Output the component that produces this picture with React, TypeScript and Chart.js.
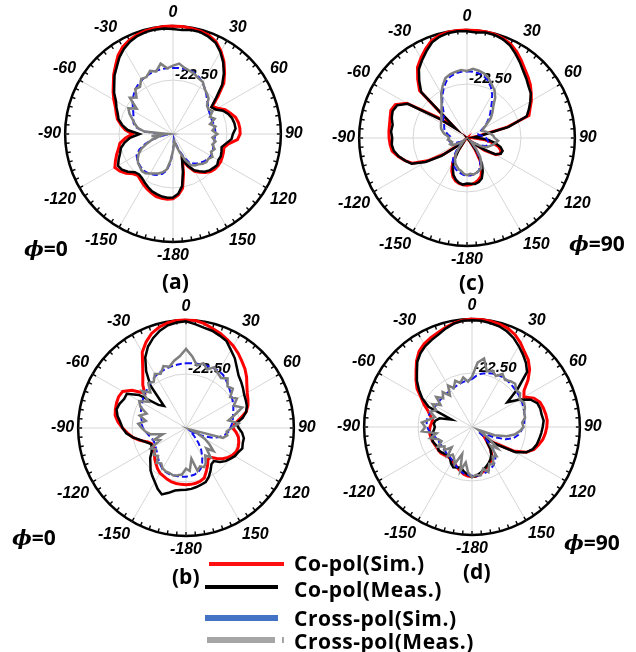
import React, { useEffect, useRef } from 'react';
import { Chart, registerables } from 'chart.js';

Chart.register(...registerables);

// Each pattern cut is sampled every 5 degrees, clockwise from 0 (top),
// index 0..36 -> 0..180 deg, index 37..71 -> -175..-5 deg.
const STEP_DEG = 5;
const ANGLES = Array.from({ length: 360 / STEP_DEG }, (_, i) => (i * STEP_DEG > 180 ? i * STEP_DEG - 360 : i * STEP_DEG));
const ANGLE_TICKS = ['0', '30', '60', '90', '120', '150', '-180', '-150', '-120', '-90', '-60', '-30'];
const R_MIN = -45;
const R_MAX = 0;
const R_STEP = 22.5;
const RING_LABEL = '-22.50';

// (a) phi = 0
const A_CO_SIM = [
  0, 0, -0.3, -0.6, -1.2, -2.5, -5, -8, -11.5, -15, -20.5, -25,
  -23.5, -21, -19.5, -18, -17.3, -17, -17, -18, -21.5, -23, -22.6, -22.3,
  -22, -22, -22.2, -22.8, -24, -25.5, -27, -30, -33.5, -28, -22, -19.5,
  -18, -17.7, -17.8, -18, -18.8, -19.6, -20.5, -21.5, -22.3, -21.5, -19.5, -18,
  -17, -18.5, -20, -21.5, -22.5, -25, -28, -25, -23, -21, -19.8, -18.5,
  -16.5, -14.5, -12.5, -10, -7.7, -5, -3, -1.8, -1, -0.5, -0.2, 0,
];
const A_CO_MEAS = [
  -1.2, -1.5, -1, -1, -1.8, -3, -5.5, -8.5, -12, -16, -21.5, -25.5,
  -24.5, -22, -20.5, -19.5, -19, -18.8, -20, -20.5, -22.5, -24, -23.5, -23,
  -23.2, -22.5, -23, -23.5, -24.5, -26, -27.5, -30.5, -34, -29, -23, -20,
  -18.5, -18.3, -18.5, -19, -19.5, -20.5, -21.5, -22.5, -23, -22.5, -20.5, -19,
  -18.5, -20, -21.5, -22.5, -24.5, -27, -31, -26, -23.5, -21.5, -20.5, -19,
  -17.5, -15, -13, -10.5, -8.5, -6, -4, -2.5, -1.5, -1, -0.8, -0.8,
];
const A_X_SIM = [
  -17.5, -17.4, -17.4, -17.5, -18, -19, -20.3, -21.8, -23.4, -24.9, -26, -27,
  -27.4, -27.7, -27.8, -27.6, -27.4, -27.3, -27.4, -27.5, -27.7, -27.6, -27.2, -26.8,
  -26.8, -27, -27.6, -28.3, -29, -30, -31, -34.5, -38, -41, -43, -42,
  -38, -33, -29.5, -27.8, -26.8, -26.2, -25.8, -25.5, -25.5, -25.8, -26.2, -26.7,
  -27.5, -29.5, -32.5, -36, -40, -43, -40, -33, -29.5, -28, -27.4, -26.8,
  -25.8, -24.5, -23, -21.8, -20.6, -19.7, -19, -18.4, -18, -17.7, -17.5, -17.5,
];
const A_X_MEAS = [
  -16.5, -15.5, -17, -17.8, -18.5, -19.5, -20, -22, -23, -24, -26.5, -27,
  -26, -28, -26.5, -29, -27, -28.5, -26.5, -28.5, -27, -28, -26.5, -27.5,
  -26, -27, -26.8, -27.5, -28.5, -29, -30, -33, -37, -40, -42, -41,
  -38, -34, -30, -28.5, -27.5, -26.8, -26, -25, -24.8, -25.5, -26, -27,
  -28.5, -30.5, -33.5, -36, -39, -36, -43, -33, -30, -28.5, -27, -25,
  -23.5, -26.5, -21.5, -23.5, -20.5, -21, -18.5, -18.8, -17, -18, -15.2, -17.5,
];

// (b) phi = 0
const B_CO_SIM = [
  0, 0, -0.8, -2, -3, -4.3, -5.5, -7, -8.7, -10.2, -12, -14,
  -15.5, -16.5, -17.5, -19, -22, -24.5, -25.5, -24, -22.8, -22.2, -21.8, -21.8,
  -22.5, -23.6, -25, -27, -29, -29, -27, -25, -22.8, -22, -21.6, -21.4,
  -21.3, -21.4, -21.5, -21.7, -22.2, -22.8, -23.3, -24.3, -25.5, -26.6, -27.8, -28.8,
  -29.3, -29.3, -28, -25, -22.5, -20.5, -18.5, -16.5, -15, -14.5, -14.2, -14,
  -14.5, -17.5, -22.5, -19.5, -17, -13.5, -8.5, -5.5, -3, -1.5, -0.5, 0,
];
const B_CO_MEAS = [
  -0.5, -1.5, -2.5, -3, -4, -5, -7.5, -9.5, -12, -14, -15, -16,
  -17, -17.5, -18, -19, -21, -24, -23, -21.5, -20.5, -20.5, -20, -21,
  -21.5, -22.5, -23.5, -25, -27, -26.5, -24.5, -22.5, -21, -20.5, -20, -19.5,
  -19.2, -19, -18.5, -17, -15.5, -17, -19, -20.5, -22, -24, -25.5, -27.5,
  -28.5, -29, -27.5, -25.5, -22.5, -20, -18.5, -17.5, -16, -15, -15.5, -16.5,
  -16.5, -21, -30, -32, -22, -16, -11, -7.5, -5, -3, -1.5, -0.8,
];
const B_X_SIM = [
  -18, -17.9, -17.8, -17.7, -17.6, -17.5, -17.5, -18, -19, -20, -21, -21.8,
  -22.5, -23.2, -24, -24.7, -25.2, -25.8, -26.5, -27.2, -28.5, -30.5, -33, -37,
  -41, -43, -42, -40, -37, -34, -31.5, -29, -27, -25.8, -25.2, -24.9,
  -24.7, -24.6, -24.6, -24.6, -24.6, -24.8, -25.3, -26.3, -27.3, -28.3, -29.2, -29.8,
  -30.2, -30.5, -30.4, -29.8, -29, -28, -27, -26.5, -26.2, -25.6, -25, -24.4,
  -23.9, -23.2, -22.6, -22.1, -21.3, -20.5, -19.8, -19.4, -19, -18.7, -18.4, -18.2,
];
const B_X_MEAS = [
  -12, -15, -18.5, -17, -19, -17, -18.5, -19.5, -18, -20.5, -19.5, -22.5,
  -20.5, -23, -20, -24, -27, -23, -26, -28, -27.5, -29, -43, -40,
  -36, -33, -30, -33, -29, -31, -28.5, -27, -28, -26.5, -32, -27,
  -28, -25.5, -25, -24.5, -25, -25, -25.5, -27, -26, -28.5, -27.5, -29.5,
  -28, -33, -31, -35, -30, -28, -26.5, -25, -28, -25, -27.5, -24,
  -22.5, -26, -21, -24, -20.5, -21.5, -19, -20, -17.5, -18.5, -16.5, -15,
];

// (c) phi = 90
const C_CO_SIM = [
  0, 0, 0, -0.2, -0.8, -1.8, -3.5, -5.5, -7.5, -9, -10.5, -12.3,
  -14, -16, -17.5, -28, -40, -43, -42, -38, -34.5, -31.5, -30, -29.6,
  -31, -36, -42, -44, -43, -39, -34, -30.5, -28, -26.8, -26, -25.5,
  -25.3, -25.4, -25.8, -26.5, -27.8, -30, -33, -38, -43, -44, -41, -33,
  -26, -20, -17.5, -15.3, -13.3, -12.8, -12.5, -12.3, -12.2, -11.8, -11.2, -12,
  -16, -30, -38, -17, -13, -9, -6.5, -4, -1.8, -0.7, -0.1, 0,
];
const C_CO_MEAS = [
  -0.5, -0.8, -0.3, -0.5, -1.2, -2.5, -4.5, -6.5, -8.5, -10, -11.5, -12.5,
  -14.5, -16.5, -18.5, -27, -39, -42, -40, -36, -33, -30.5, -29.2, -29.5,
  -31.5, -37, -42, -44, -42, -37, -32.5, -29.5, -27, -26, -25.5, -25.8,
  -26, -25.5, -26, -27, -28.5, -31, -34, -39, -43, -43.5, -40, -32,
  -25, -19.5, -17.5, -15.5, -14, -13.5, -13.8, -13.2, -13.5, -12.5, -12, -12.8,
  -16.5, -31, -39, -18, -14, -10, -7.5, -5, -2.5, -1.2, -0.5, -0.3,
];
const C_X_SIM = [
  -17.2, -17.3, -17.6, -18.2, -19.5, -21.5, -24, -27, -29.5, -31.5, -33.5, -35.5,
  -37.5, -39, -40, -40, -39, -38, -37, -36.5, -36, -35.8, -36, -37,
  -39, -41, -42.5, -42, -40, -37, -34, -32, -30.5, -29.8, -29.5, -29.3,
  -29.3, -29.5, -30, -30.5, -31.2, -32, -33, -35, -38, -41, -43, -43,
  -42, -40.5, -39, -38, -37.5, -37.5, -38, -38, -37, -36, -35, -34.5,
  -34, -33, -32, -31.5, -29.5, -27, -24.5, -22, -19.8, -18.4, -17.6, -17.3,
];
const C_X_MEAS = [
  -17, -16, -16.5, -17.2, -18.5, -20.5, -22, -24.5, -28, -30, -32, -35,
  -37, -38, -37, -36, -35, -34, -33.5, -32, -33, -34, -35, -36,
  -38, -41, -43, -42, -39, -35.5, -33, -31, -30.5, -30, -29.5, -30,
  -29.5, -30, -31, -31.5, -32.5, -33.5, -35, -37, -40, -42.5, -43.5, -42,
  -40, -38, -37.5, -38.5, -38, -37, -37.5, -37, -35.5, -34.5, -33.5, -33,
  -32.5, -32, -31, -30, -28.5, -26.5, -23.5, -21, -18.5, -17.5, -17, -16.5,
];

// (d) phi = 90
const D_CO_SIM = [
  0, 0, -0.2, -0.6, -1.2, -2.5, -4.5, -6.8, -8.5, -11, -14.5, -18.5,
  -20, -16.5, -14.8, -14.2, -13.8, -13.5, -13.8, -14.3, -15, -16.2, -17.5, -20,
  -25, -33, -38, -36, -33, -30.5, -29, -28, -27, -26, -25, -24.5,
  -24.3, -24.5, -25, -26, -27, -28, -28.5, -29, -29, -28.5, -28, -28,
  -28, -27.8, -27.5, -27.3, -27.2, -27.2, -27.5, -28, -28.3, -27, -25.5, -23,
  -20.5, -17, -14.5, -12, -9, -6.5, -5, -4, -3.2, -2, -1, -0.3,
];
const D_CO_MEAS = [
  -0.5, -0.5, -1, -1.5, -2.5, -4, -6, -8, -10, -12.5, -20, -27,
  -22, -18, -16, -15.5, -15.5, -15, -15.5, -16, -16.5, -17, -18, -20,
  -24, -32, -37, -36, -33, -31, -29.5, -28.5, -27.5, -26.5, -25.5, -24.5,
  -24.3, -25, -26, -27.5, -27, -26.5, -27.5, -29, -30, -29, -28.5, -28,
  -28.5, -28, -27.5, -28, -28, -29, -29.5, -29, -29.5, -31, -36, -25,
  -21, -18, -15, -12.5, -9.5, -7.5, -6, -5, -4, -2.5, -1.2, -0.5,
];
const D_X_SIM = [
  -25, -23.5, -22.4, -21.8, -21.2, -20.8, -20.6, -20.6, -20.8, -21, -21.2, -21.4,
  -21.6, -21.8, -22.1, -22.4, -22.8, -23.1, -23.6, -24.5, -25.5, -27, -30, -35,
  -40, -42, -38, -33, -30, -28, -26.8, -26, -25.4, -25, -24.7, -24.6,
  -24.7, -24.9, -25.3, -26, -27, -28, -28.8, -29.3, -29.6, -29.8, -30, -30,
  -30, -29.9, -29.6, -29, -28, -27, -26.3, -26, -26, -26.3, -26.7, -27.1,
  -27.4, -27.6, -27.6, -27.6, -27.5, -27.4, -27.3, -27, -26.6, -26.2, -25.8, -25.4,
];
const D_X_MEAS = [
  -24, -18, -16, -21, -20, -21.5, -19.5, -21, -20, -19.5, -21, -20.5,
  -22, -21, -21.5, -22.5, -22.5, -24, -23.5, -25, -27, -30, -35, -42,
  -40, -36, -31, -34, -29, -30, -27, -28, -25, -27, -24.5, -25,
  -24, -26, -30, -26, -33, -28, -30, -31, -29, -33, -30, -31,
  -28.5, -31, -30, -27, -30, -24, -25.5, -24, -27, -29, -26.5, -28.5,
  -26, -29, -25.5, -28, -26, -29, -25, -27, -24.5, -26, -24, -26,
];

const SERIES_NAMES = ['Co-pol(Sim.)', 'Co-pol(Meas.)', 'Cross-pol(Sim.)', 'Cross-pol(Meas.)'];

const CANVAS = 270;
const GRID_GRAY = '#d6d6d6';
const AXIS_FONT = '"Liberation Sans", Arial, sans-serif';

type Cut = { co: number[]; coMeas: number[]; x: number[]; xMeas: number[] };

// Outer-ring tick marks and the ring value label.
const ringDecor = {
  id: 'ringDecor',
  beforeDatasetsDraw(chart: any) {
    const s = chart.scales.r;
    const ctx = chart.ctx as CanvasRenderingContext2D;
    const n = chart.data.labels.length;
    ctx.save();
    ctx.strokeStyle = '#000';
    ctx.lineWidth = 1.4;
    for (let i = 0; i < n; i++) {
      const a = s.getPointPosition(i, s.drawingArea);
      const b = s.getPointPosition(i, s.drawingArea - 4);
      ctx.beginPath();
      ctx.moveTo(a.x, a.y);
      ctx.lineTo(b.x, b.y);
      ctx.stroke();
    }
    const d = s.getDistanceFromCenterForValue(R_MIN + R_STEP);
    ctx.font = `italic bold 15px ${AXIS_FONT}`;
    ctx.fillStyle = '#000';
    ctx.textAlign = 'left';
    ctx.textBaseline = 'alphabetic';
    ctx.fillText(RING_LABEL, s.xCenter + 2, s.yCenter - d - 1);
    ctx.restore();
  },
};

function PolarCut({ cut, cx, cy }: { cut: Cut; cx: number; cy: number }) {
  const ref = useRef<HTMLCanvasElement | null>(null);
  useEffect(() => {
    const canvas = ref.current;
    if (!canvas) return;
    const chart = new Chart(canvas, {
      type: 'radar',
      data: {
        labels: ANGLES.map(String),
        datasets: [
          { label: SERIES_NAMES[3], data: cut.xMeas, borderColor: '#7f7f7f', borderWidth: 2.5, order: 0 },
          { label: SERIES_NAMES[2], data: cut.x, borderColor: '#1010f0', borderWidth: 2, borderDash: [6, 3], order: 1 },
          { label: SERIES_NAMES[1], data: cut.coMeas, borderColor: '#000000', borderWidth: 2.5, order: 2 },
          { label: SERIES_NAMES[0], data: cut.co, borderColor: '#ff0000', borderWidth: 3, order: 3 },
        ].map((d) => ({ ...d, fill: false, pointRadius: 0, pointHoverRadius: 0, backgroundColor: 'transparent', tension: 0 })),
      },
      options: {
        responsive: false,
        animation: false,
        events: [],
        layout: { padding: 0 },
        plugins: { legend: { display: false }, tooltip: { enabled: false } },
        scales: {
          r: {
            min: R_MIN,
            max: R_MAX,
            startAngle: 0,
            ticks: { stepSize: R_STEP, display: false },
            grid: {
              circular: true,
              color: (c: any) => (c.index === 2 ? '#000' : c.index === 1 ? GRID_GRAY : 'rgba(0,0,0,0)'),
              lineWidth: (c: any) => (c.index === 2 ? 2.5 : 1),
            },
            angleLines: {
              display: true,
              color: (c: any) => (c.index % 6 === 0 ? GRID_GRAY : 'rgba(0,0,0,0)'),
              lineWidth: (c: any) => (c.index % 6 === 0 ? 1 : 0),
            },
            pointLabels: {
              display: true,
              padding: 4,
              color: '#000',
              font: { family: AXIS_FONT, size: 16, style: 'italic', weight: 'bold' },
              callback: (_l: string, i: number) => (i % 6 === 0 ? ANGLE_TICKS[i / 6] : ''),
            },
          },
        },
      } as any,
      plugins: [ringDecor],
    });
    const s: any = chart.scales.r;
    canvas.style.left = `${cx - s.xCenter}px`;
    canvas.style.top = `${cy - s.yCenter}px`;
    return () => chart.destroy();
  }, [cut, cx, cy]);
  return (
    <canvas
      ref={ref}
      width={CANVAS}
      height={CANVAS}
      style={{ position: 'absolute', left: cx - CANVAS / 2, top: cy - CANVAS / 2 }}
    />
  );
}

const CUT_A: Cut = { co: A_CO_SIM, coMeas: A_CO_MEAS, x: A_X_SIM, xMeas: A_X_MEAS };
const CUT_B: Cut = { co: B_CO_SIM, coMeas: B_CO_MEAS, x: B_X_SIM, xMeas: B_X_MEAS };
const CUT_C: Cut = { co: C_CO_SIM, coMeas: C_CO_MEAS, x: C_X_SIM, xMeas: C_X_MEAS };
const CUT_D: Cut = { co: D_CO_SIM, coMeas: D_CO_MEAS, x: D_X_SIM, xMeas: D_X_MEAS };

const LABEL_FONT = '"Open Sans", "Liberation Sans", sans-serif';

function Text({ x, y, children, size = 21, weight = 700 }: any) {
  return (
    <div
      style={{
        position: 'absolute',
        left: x,
        top: y,
        fontFamily: LABEL_FONT,
        fontSize: size,
        fontWeight: weight,
        lineHeight: 1,
        whiteSpace: 'nowrap',
        color: '#000',
      }}
    >
      {children}
    </div>
  );
}

function Phi({ x, y, value }: { x: number; y: number; value: string }) {
  return (
    <Text x={x} y={y} size={21}>
      <span style={{ fontFamily: '"DejaVu Serif", serif', fontStyle: 'italic', fontWeight: 700 }}>ϕ</span>
      {'=' + value}
    </Text>
  );
}

function LegendRow({ y, textY, color, width, left, thick, text, tail }: any) {
  return (
    <>
      <div style={{ position: 'absolute', left, top: y - thick / 2, width, height: thick, background: color }} />
      {tail ? (
        <div style={{ position: 'absolute', left: left + width + 7, top: y - thick / 2, width: 2, height: thick, background: color }} />
      ) : null}
      <div
        style={{
          position: 'absolute',
          left: 294,
          top: textY - 14,
          fontFamily: LABEL_FONT,
          fontSize: 21,
          fontWeight: 700,
          letterSpacing: 0.5,
          lineHeight: '28px',
          whiteSpace: 'nowrap',
        }}
      >
        {text}
      </div>
    </>
  );
}

export default function App() {
  return (
    <div
      style={{
        position: 'fixed',
        left: 0,
        top: 0,
        width: 636,
        height: 652,
        background: '#fff',
        overflow: 'hidden',
      }}
    >
      <PolarCut cut={CUT_A} cx={173} cy={134} />
      <PolarCut cut={CUT_C} cx={467} cy={138} />
      <PolarCut cut={CUT_B} cx={186} cy={428} />
      <PolarCut cut={CUT_D} cx={472} cy={427} />

      <Text x={162} y={271}>(a)</Text>
      <Text x={459} y={272}>(c)</Text>
      <Text x={172} y={566}>(b)</Text>
      <Text x={463} y={561}>(d)</Text>

      <Phi x={24} y={238} value="0" />
      <Phi x={569} y={233} value="90" />
      <Phi x={12} y={527} value="0" />
      <Phi x={564} y={532} value="90" />

      <LegendRow y={564} textY={563} color="#ff1010" left={209} width={75} thick={4.5} text={SERIES_NAMES[0]} />
      <LegendRow y={587} textY={589} color="#000" left={205} width={73} thick={4.5} text={SERIES_NAMES[1]} />
      <LegendRow y={618} textY={618} color="#4472c4" left={205} width={73} thick={6} text={SERIES_NAMES[2]} />
      <LegendRow y={640} textY={641} color="#a6a6a6" left={207} width={68} thick={6} text={SERIES_NAMES[3]} tail />
    </div>
  );
}
